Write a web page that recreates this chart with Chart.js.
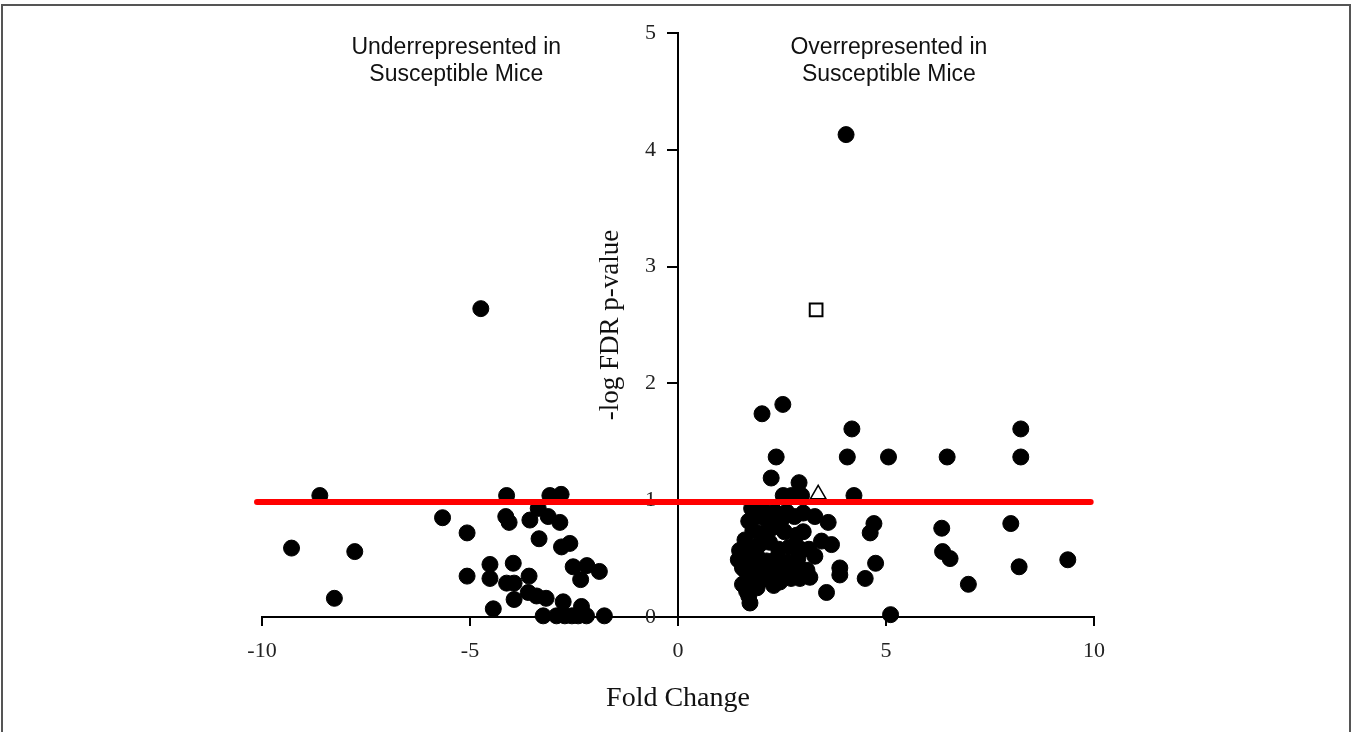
<!DOCTYPE html>
<html>
<head>
<meta charset="utf-8">
<title>Volcano plot</title>
<script src="https://cdn.jsdelivr.net/npm/chart.js@4.4.9/dist/chart.umd.min.js"></script>
<style>
  html, body { margin: 0; padding: 0; background: #fff; overflow: hidden; }
  #frame { position: absolute; left: 1px; top: 4px; width: 1350px; height: 800px; border: 2px solid #555; box-sizing: border-box; }
  #wrap { position: absolute; left: 0; top: 0; width: 1354px; height: 732px; }
</style>
</head>
<body>
<div id="frame"></div>
<div id="wrap"><canvas id="chart" width="1354" height="732"></canvas></div>
<script>
/* data */
const xTicks = [-10, -5, 0, 5, 10];
const yTicks = [0, 1, 2, 3, 4, 5];

// underrepresented (negative fold change)
const downFold = [-9.29, -8.61, -7.77, -8.26, -5.66, -5.07, -5.07, -4.74, -4.52, -4.52, -4.44,
  -4.12, -4.14, -4.06, -3.96, -4.12, -3.94, -3.94, -3.58, -3.56, -3.36, -3.34, -3.08, -2.81,
  -3.12, -2.84, -2.80, -2.60, -3.60, -3.40, -3.17, -2.52, -2.19, -1.89, -2.34, -2.76, -2.32,
  -3.24, -2.92, -2.72, -2.55, -2.40, -2.20, -1.77];
const downLogP = [0.59, 1.04, 0.56, 0.16, 0.85, 0.72, 0.35, 2.64, 0.45, 0.33, 0.07,
  1.04, 0.86, 0.81, 0.46, 0.29, 0.29, 0.15, 0.35, 0.83, 0.93, 0.67, 1.04, 1.05,
  0.86, 0.81, 0.60, 0.63, 0.21, 0.18, 0.16, 0.43, 0.44, 0.39, 0.32, 0.13, 0.09,
  0.01, 0.01, 0.01, 0.01, 0.01, 0.01, 0.01];

// overrepresented (positive fold change)
const upFold = [4.04, 2.02, 2.52, 4.18, 8.24, 2.36, 4.07, 5.06, 6.47, 8.24, 2.24, 2.91,
  2.53, 2.73, 2.97, 4.23, 4.71, 4.62, 6.34, 8.00, 6.36, 6.54, 4.75, 4.50, 6.98, 8.20,
  9.37, 5.11, 3.57, 3.89, 3.89, 3.01, 3.29, 3.61, 3.45, 3.69, 3.29, 2.93, 3.17, 3.01, 3.15,
  1.77, 2.05, 2.33, 2.61, 1.93, 2.12, 2.47, 2.80,
  1.61, 1.80, 2.02, 2.25, 2.56, 2.85, 1.70,
  1.48, 1.72, 1.96, 2.20, 2.42, 2.68, 2.95,
  1.45, 1.66, 1.90, 2.13, 2.36, 2.62, 2.88, 1.55,
  1.61, 1.85, 2.08, 2.32, 2.56, 2.80, 3.10, 1.75,
  1.70, 1.98, 2.20, 2.45, 2.72, 1.55,
  1.65, 1.90, 2.30, 1.70, 1.73];
const upLogP = [4.13, 1.74, 1.82, 1.61, 1.61, 1.37, 1.37, 1.37, 1.37, 1.37, 1.19, 1.15,
  1.04, 1.04, 1.04, 1.04, 0.80, 0.72, 0.76, 0.80, 0.56, 0.50, 0.46, 0.33, 0.28, 0.43,
  0.49, 0.02, 0.21, 0.42, 0.36, 0.89, 0.86, 0.81, 0.65, 0.62, 0.52, 0.33, 0.34, 0.73, 0.58,
  0.93, 0.92, 0.90, 0.90, 0.86, 0.84, 0.82, 0.86,
  0.66, 0.74, 0.72, 0.76, 0.73, 0.70, 0.82,
  0.57, 0.60, 0.62, 0.64, 0.58, 0.60, 0.58,
  0.49, 0.50, 0.52, 0.48, 0.50, 0.47, 0.50, 0.42,
  0.40, 0.42, 0.39, 0.41, 0.38, 0.42, 0.40, 0.35,
  0.32, 0.31, 0.34, 0.30, 0.33, 0.28,
  0.22, 0.25, 0.27, 0.18, 0.12];

// the two open markers
const squareFold = [3.32];
const squareLogP = [2.63];
const triangleFold = [3.37];
const triangleLogP = [1.05];

// significance cut-off line
const cutoffFold = [-10.12, 9.92];
const cutoffLogP = [0.985, 0.985];

const xTitle = 'Fold Change';
const yTitle = '-log FDR p-value';
const sideNotes = [
  { at: -5.33, lines: ['Underrepresented in', 'Susceptible Mice'] },
  { at: 5.07, lines: ['Overrepresented in', 'Susceptible Mice'] }
];

const zip = (xs, ys) => xs.map((x, i) => ({ x, y: ys[i] }));
const serif = '"Liberation Serif", "Times New Roman", serif';

/* extra text: side notes and the y title next to the axis */
const notes = {
  id: 'notes',
  afterDraw(chart) {
    const { ctx, chartArea, scales: { x } } = chart;
    ctx.save();
    ctx.fillStyle = '#111';
    ctx.textAlign = 'center';
    ctx.textBaseline = 'middle';
    ctx.font = '23px "Liberation Sans", Arial, sans-serif';
    sideNotes.forEach(n => n.lines.forEach((t, i) =>
      ctx.fillText(t, x.getPixelForValue(n.at), chartArea.top + 15 + i * 27)));
    ctx.translate(x.getPixelForValue(0) - 67, (chartArea.top + chartArea.bottom) / 2);
    ctx.rotate(-Math.PI / 2);
    ctx.font = '27px ' + serif;
    ctx.fillText(yTitle, 0, 0);
    ctx.restore();
  }
};

new Chart(document.getElementById('chart'), {
  type: 'scatter',
  data: {
    datasets: [
      {
        type: 'line', data: zip(cutoffFold, cutoffLogP), clip: false,
        borderColor: '#ff0000', borderWidth: 6, borderCapStyle: 'round',
        pointRadius: 0, fill: false
      },
      {
        data: zip(squareFold, squareLogP), pointStyle: 'rect',
        pointRadius: 9, backgroundColor: '#fff', borderColor: '#000', borderWidth: 2
      },
      {
        data: zip(triangleFold, triangleLogP), pointStyle: 'triangle',
        pointRadius: 9, backgroundColor: '#fff', borderColor: '#000', borderWidth: 1.5
      },
      {
        data: zip(upFold, upLogP), clip: false,
        pointRadius: 8, backgroundColor: '#000', borderColor: '#000', borderWidth: 1
      },
      {
        data: zip(downFold, downLogP), clip: false,
        pointRadius: 8, backgroundColor: '#000', borderColor: '#000', borderWidth: 1
      }
    ]
  },
  options: {
    responsive: false,
    animation: false,
    layout: { padding: { left: 262, right: 260, top: 33, bottom: 15 } },
    plugins: { legend: { display: false }, tooltip: { enabled: false } },
    scales: {
      x: {
        type: 'linear', position: 'bottom', min: -10, max: 10,
        afterBuildTicks: s => { s.ticks = xTicks.map(v => ({ value: v })); },
        afterFit: s => { s.height = 100; },
        grid: { drawOnChartArea: false, tickLength: 9, color: '#000', lineWidth: 2 },
        border: { color: '#000', width: 2 },
        ticks: { padding: 12, color: '#222', font: { family: serif, size: 22 } },
        title: { display: true, text: xTitle, color: '#111', padding: { top: 0, bottom: 2 },
                 font: { family: serif, size: 28 } }
      },
      y: {
        type: 'linear', position: { x: 0 }, min: 0, max: 5,
        afterBuildTicks: s => { s.ticks = yTicks.map(v => ({ value: v })); },
        grid: { drawOnChartArea: false, tickLength: 10, color: '#000', lineWidth: 2 },
        border: { color: '#000', width: 2 },
        // the centred axis puts labels flush on the line; the spaces push them left of the tick marks
        ticks: { color: '#222', font: { family: serif, size: 22 },
                 callback: v => v + '\u2002\u2002' }
      }
    }
  },
  plugins: [notes]
});
</script>
</body>
</html>
